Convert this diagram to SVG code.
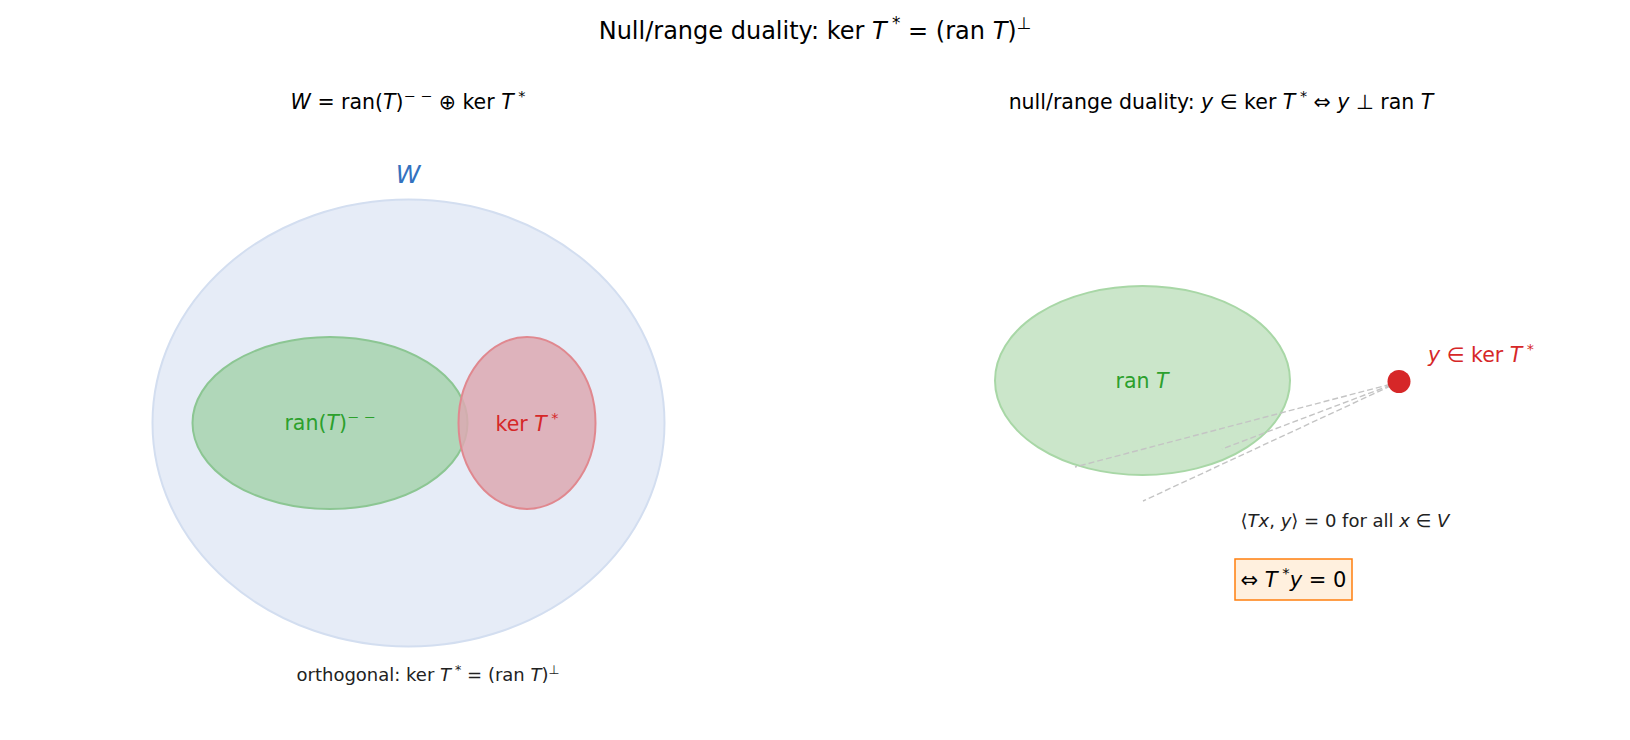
<svg xmlns="http://www.w3.org/2000/svg" width="1630" height="740" viewBox="0 0 1630 740">
<style>
text{font-family:"DejaVu Sans","Liberation Sans",sans-serif;}
.i{font-style:italic;}
.sup{font-size:70%;}
.title{font-size:24px;fill:#000;}
.sub{font-size:20.5px;fill:#000;}
.note{font-size:18px;fill:#222;}
.lbl{font-size:20.5px;}
.dash{stroke:#c4c4c4;stroke-width:1.4;stroke-dasharray:6,3;fill:none;}
</style>
<rect width="1630" height="740" fill="#ffffff"/>
<g id="title">
<text class="title" x="815" y="39" text-anchor="middle">Null/range duality: ker <tspan class="i">T</tspan><tspan class="sup" dy="-10"> *</tspan><tspan dy="10"> = (ran </tspan><tspan class="i">T</tspan>)<tspan class="sup" dy="-10">⊥</tspan></text>
</g>
<g id="left-title">
<text class="sub" x="408" y="109" text-anchor="middle"><tspan class="i">W</tspan> = ran(<tspan class="i">T</tspan>)<tspan class="sup" dy="-8">− −</tspan><tspan dy="8"> ⊕ ker </tspan><tspan class="i">T</tspan><tspan class="sup" dy="-8"> *</tspan></text>
</g>
<g id="right-title">
<text class="sub" x="1221" y="109" text-anchor="middle">null/range duality: <tspan class="i">y</tspan> ∈ ker <tspan class="i">T</tspan><tspan class="sup" dy="-8"> *</tspan><tspan dy="8"> ⇔ </tspan><tspan class="i">y</tspan> ⊥ ran <tspan class="i">T</tspan></text>
</g>
<g id="W-space">
<ellipse cx="408.5" cy="423" rx="256" ry="223.5" fill="#e6ecf7" stroke="#d3def0" stroke-width="2"/>
<text x="408" y="183" text-anchor="middle" class="i" font-size="25" fill="#3372bf">W</text>
</g>
<g id="ran-closure">
<ellipse cx="330" cy="423" rx="137.5" ry="86" fill="#a6d4ae" fill-opacity="0.85" stroke="#8cc693" stroke-width="2"/>
<text class="lbl" x="330" y="430" text-anchor="middle" fill="#2ca02c">ran(<tspan class="i">T</tspan>)<tspan class="sup" dy="-8">− −</tspan></text>
</g>
<g id="ker-Tstar">
<ellipse cx="527" cy="423" rx="68.5" ry="86" fill="#dca9b1" fill-opacity="0.85" stroke="#e0888f" stroke-width="2"/>
<text class="lbl" x="527" y="431" text-anchor="middle" fill="#d62728">ker <tspan class="i">T</tspan><tspan class="sup" dy="-8"> *</tspan></text>
</g>
<g id="left-note">
<text class="note" x="428" y="681" text-anchor="middle">orthogonal: ker <tspan class="i">T</tspan><tspan class="sup" dy="-7"> *</tspan><tspan dy="7"> = (ran </tspan><tspan class="i">T</tspan>)<tspan class="sup" dy="-7">⊥</tspan></text>
</g>
<g id="ran-T">
<ellipse cx="1142.5" cy="380.5" rx="147.5" ry="94.5" fill="#cbe6ca" stroke="#a8d7a6" stroke-width="2"/>
<text class="lbl" x="1142" y="388" text-anchor="middle" fill="#2ca02c">ran <tspan class="i">T</tspan></text>
</g>
<g id="connectors">
<line class="dash" x1="1399" y1="382" x2="1075" y2="467"/>
<line class="dash" x1="1399" y1="382" x2="1222" y2="449"/>
<line class="dash" x1="1399" y1="382" x2="1143" y2="501"/>
</g>
<g id="y-point">
<circle cx="1399" cy="381.5" r="11.5" fill="#d62728"/>
<text class="lbl" x="1428" y="362" fill="#d62728"><tspan class="i">y</tspan> ∈ ker <tspan class="i">T</tspan><tspan class="sup" dy="-8"> *</tspan></text>
</g>
<g id="inner-product-note">
<text class="note" x="1345" y="527" text-anchor="middle">⟨<tspan class="i">Tx</tspan>, <tspan class="i">y</tspan>⟩ = 0 for all <tspan class="i">x</tspan> ∈ <tspan class="i">V</tspan></text>
</g>
<g id="adjoint-box">
<rect x="1235" y="559" width="117" height="41" fill="#fff0de" stroke="#ff7f0e" stroke-width="1.5"/>
<text x="1293.5" y="587" text-anchor="middle" font-size="21" fill="#000">⇔ <tspan class="i">T</tspan><tspan class="sup" dy="-9"> *</tspan><tspan class="i" dy="9">y</tspan> = 0</text>
</g>
</svg>
